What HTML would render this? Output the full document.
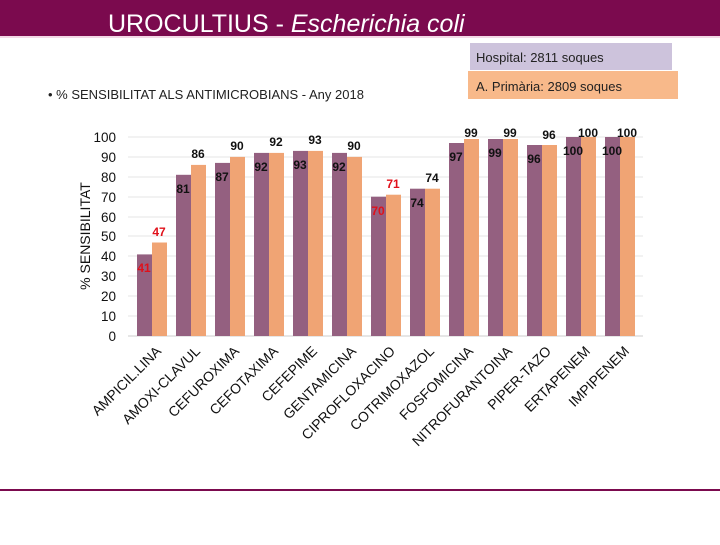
<!DOCTYPE html><html><head><style>body{margin:0;width:720px;height:540px;background:#fff;overflow:hidden;font-family:"Liberation Sans",sans-serif}</style></head><body>
<svg width="720" height="540" xmlns="http://www.w3.org/2000/svg" font-family="Liberation Sans, sans-serif">
<rect x="0" y="0" width="720" height="36" fill="#7b0a4e"/>
<rect x="0" y="36" width="720" height="2" fill="#f3d9e6"/>
<text x="108" y="32" font-size="25" fill="#fff">UROCULTIUS - <tspan font-style="italic">Escherichia coli</tspan></text>
<rect x="470" y="43" width="202" height="27" fill="#cdc3dc"/>
<text x="476" y="62" font-size="13" fill="#222">Hospital: 2811 soques</text>
<rect x="468" y="71" width="210" height="28" fill="#f8b98a"/>
<text x="476" y="91" font-size="13" fill="#222">A. Primària: 2809 soques</text>
<text x="48" y="99" font-size="13" fill="#222">• % SENSIBILITAT ALS ANTIMICROBIANS - Any 2018</text>
<g stroke="#e4e4e4"><line x1="128" x2="643" y1="316" y2="316"/><line x1="128" x2="643" y1="296" y2="296"/><line x1="128" x2="643" y1="276" y2="276"/><line x1="128" x2="643" y1="256" y2="256"/><line x1="128" x2="643" y1="236" y2="236"/><line x1="128" x2="643" y1="217" y2="217"/><line x1="128" x2="643" y1="197" y2="197"/><line x1="128" x2="643" y1="177" y2="177"/><line x1="128" x2="643" y1="157" y2="157"/><line x1="128" x2="643" y1="137" y2="137"/></g>
<line x1="128" x2="643" y1="336" y2="336" stroke="#ccc"/>
<g font-size="13.5" fill="#111" text-anchor="end">
<text x="116" y="341">0</text><text x="116" y="321">10</text><text x="116" y="301">20</text><text x="116" y="281">30</text><text x="116" y="261">40</text><text x="116" y="241">50</text><text x="116" y="222">60</text><text x="116" y="202">70</text><text x="116" y="182">80</text><text x="116" y="162">90</text><text x="116" y="142">100</text>
</g>
<text transform="translate(90,236) rotate(-90)" font-size="14" text-anchor="middle" fill="#111">% SENSIBILITAT</text>
<g fill="#946080">
<rect x="137" y="254.4" width="15" height="81.6"/>
<rect x="176" y="174.8" width="15" height="161.2"/>
<rect x="215" y="162.9" width="15" height="173.1"/>
<rect x="254" y="152.9" width="15" height="183.1"/>
<rect x="293" y="150.9" width="15" height="185.1"/>
<rect x="332" y="152.9" width="15" height="183.1"/>
<rect x="371" y="196.7" width="15" height="139.3"/>
<rect x="410" y="188.7" width="15" height="147.3"/>
<rect x="449" y="143" width="15" height="193"/>
<rect x="488" y="139" width="15" height="197"/>
<rect x="527" y="145" width="15" height="191"/>
<rect x="566" y="137" width="15" height="199"/>
<rect x="605" y="137" width="15" height="199"/>
</g>
<g fill="#f0a474">
<rect x="152" y="242.5" width="15" height="93.5"/>
<rect x="191" y="164.9" width="15" height="171.1"/>
<rect x="230" y="156.9" width="15" height="179.1"/>
<rect x="269" y="152.9" width="15" height="183.1"/>
<rect x="308" y="150.9" width="15" height="185.1"/>
<rect x="347" y="156.9" width="15" height="179.1"/>
<rect x="386" y="194.7" width="15" height="141.3"/>
<rect x="425" y="188.7" width="15" height="147.3"/>
<rect x="464" y="139" width="15" height="197"/>
<rect x="503" y="139" width="15" height="197"/>
<rect x="542" y="145" width="15" height="191"/>
<rect x="581" y="137" width="15" height="199"/>
<rect x="620" y="137" width="15" height="199"/>
</g>
<g font-size="12" font-weight="bold" text-anchor="middle" fill="#111">
<text x="144" y="272" fill="#e0101a">41</text>
<text x="183" y="193">81</text>
<text x="222" y="181">87</text>
<text x="261" y="171">92</text>
<text x="300" y="169">93</text>
<text x="339" y="171">92</text>
<text x="378" y="215" fill="#e0101a">70</text>
<text x="417" y="207">74</text>
<text x="456" y="161">97</text>
<text x="495" y="157">99</text>
<text x="534" y="163">96</text>
<text x="573" y="155">100</text>
<text x="612" y="155">100</text>
<text x="159" y="236" fill="#e0101a">47</text>
<text x="198" y="158">86</text>
<text x="237" y="150">90</text>
<text x="276" y="146">92</text>
<text x="315" y="144">93</text>
<text x="354" y="150">90</text>
<text x="393" y="188" fill="#e0101a">71</text>
<text x="432" y="182">74</text>
<text x="471" y="137">99</text>
<text x="510" y="137">99</text>
<text x="549" y="139">96</text>
<text x="588" y="137">100</text>
<text x="627" y="137">100</text>
</g>
<g font-size="14" text-anchor="end" fill="#111">
<text transform="translate(162,352) rotate(-45)">AMPICIL.LINA</text>
<text transform="translate(201,352) rotate(-45)">AMOXI-CLAVUL</text>
<text transform="translate(240,352) rotate(-45)">CEFUROXIMA</text>
<text transform="translate(279,352) rotate(-45)">CEFOTAXIMA</text>
<text transform="translate(318,352) rotate(-45)">CEFEPIME</text>
<text transform="translate(357,352) rotate(-45)">GENTAMICINA</text>
<text transform="translate(396,352) rotate(-45)">CIPROFLOXACINO</text>
<text transform="translate(435,352) rotate(-45)">COTRIMOXAZOL</text>
<text transform="translate(474,352) rotate(-45)">FOSFOMICINA</text>
<text transform="translate(513,352) rotate(-45)">NITROFURANTOINA</text>
<text transform="translate(552,352) rotate(-45)">PIPER-TAZO</text>
<text transform="translate(591,352) rotate(-45)">ERTAPENEM</text>
<text transform="translate(630,352) rotate(-45)">IMPIPENEM</text>
</g>
<line x1="0" y1="490" x2="720" y2="490" stroke="#7b0a4e" stroke-width="2"/>
</svg></body></html>
